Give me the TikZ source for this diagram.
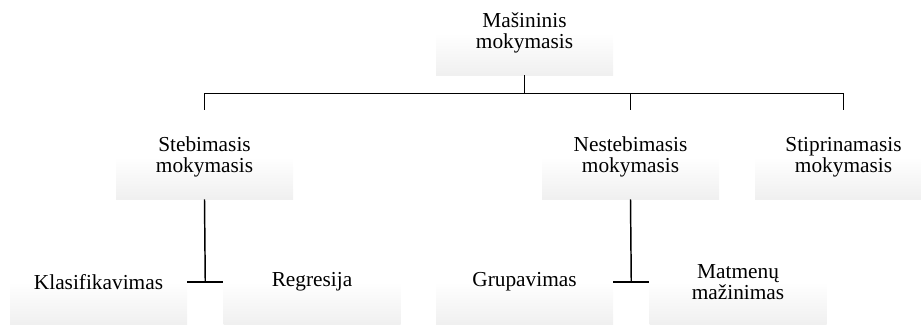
\documentclass[tikz,border=0pt]{standalone}
\usepackage{fontspec}
\setmainfont{Liberation Serif}
\usepackage{tikz}
\usetikzlibrary{positioning, calc}

\pgfdeclareverticalshading{boxfade}{100bp}{color(0bp)=(black!12); color(50bp)=(white); color(100bp)=(white)}

\begin{document}
\begin{tikzpicture}[
    x=0.75pt, y=-0.75pt,
    topic/.style={rectangle, shade, shading=boxfade, minimum width=132.75pt, minimum height=63pt, inner sep=0pt, align=center, font=\fontsize{16}{15.5}\selectfont},
    link/.style={line width=1.1pt},
    node distance=27pt
]
    \useasboundingbox (0,0) rectangle (921,325);

    % Levels
    \node[topic] (ml) at (524.5,33) {Mašininis\\mokymasis};
    \node[topic] (sup) at (204.5,157) {Stebimasis\\mokymasis};
    \node[topic] (unsup) at (630.5,157) {Nestebimasis\\mokymasis};
    \node[topic] (rl) at (843.5,157) {Stiprinamasis\\mokymasis};

    \node[topic] (klas) at (98.5,282) {Klasifikavimas};
    \node[topic, right=of klas] (regr) {Regresija};
    \node[topic] (grup) at (524.5,282) {Grupavimas};
    \node[topic, right=of grup] (matm) {Matmenų\\mažinimas};

    % Lines
    \draw[link] (ml.south) -- ++(0,18) coordinate (bus);
    \draw[link, shorten <=3.75pt, shorten >=3.75pt] (sup.north) |- (bus) -| (rl.north);
    \draw[link, shorten <=3.75pt] (unsup.north) -- (unsup.north |- bus);

    \draw[link] (klas.east) -- (regr.west);
    \draw[link] (sup.south) -- ($(klas.east)!0.5!(regr.west)$);
    \draw[link] (grup.east) -- (matm.west);
    \draw[link] (unsup.south) -- ($(grup.east)!0.5!(matm.west)$);
\end{tikzpicture}
\end{document}
